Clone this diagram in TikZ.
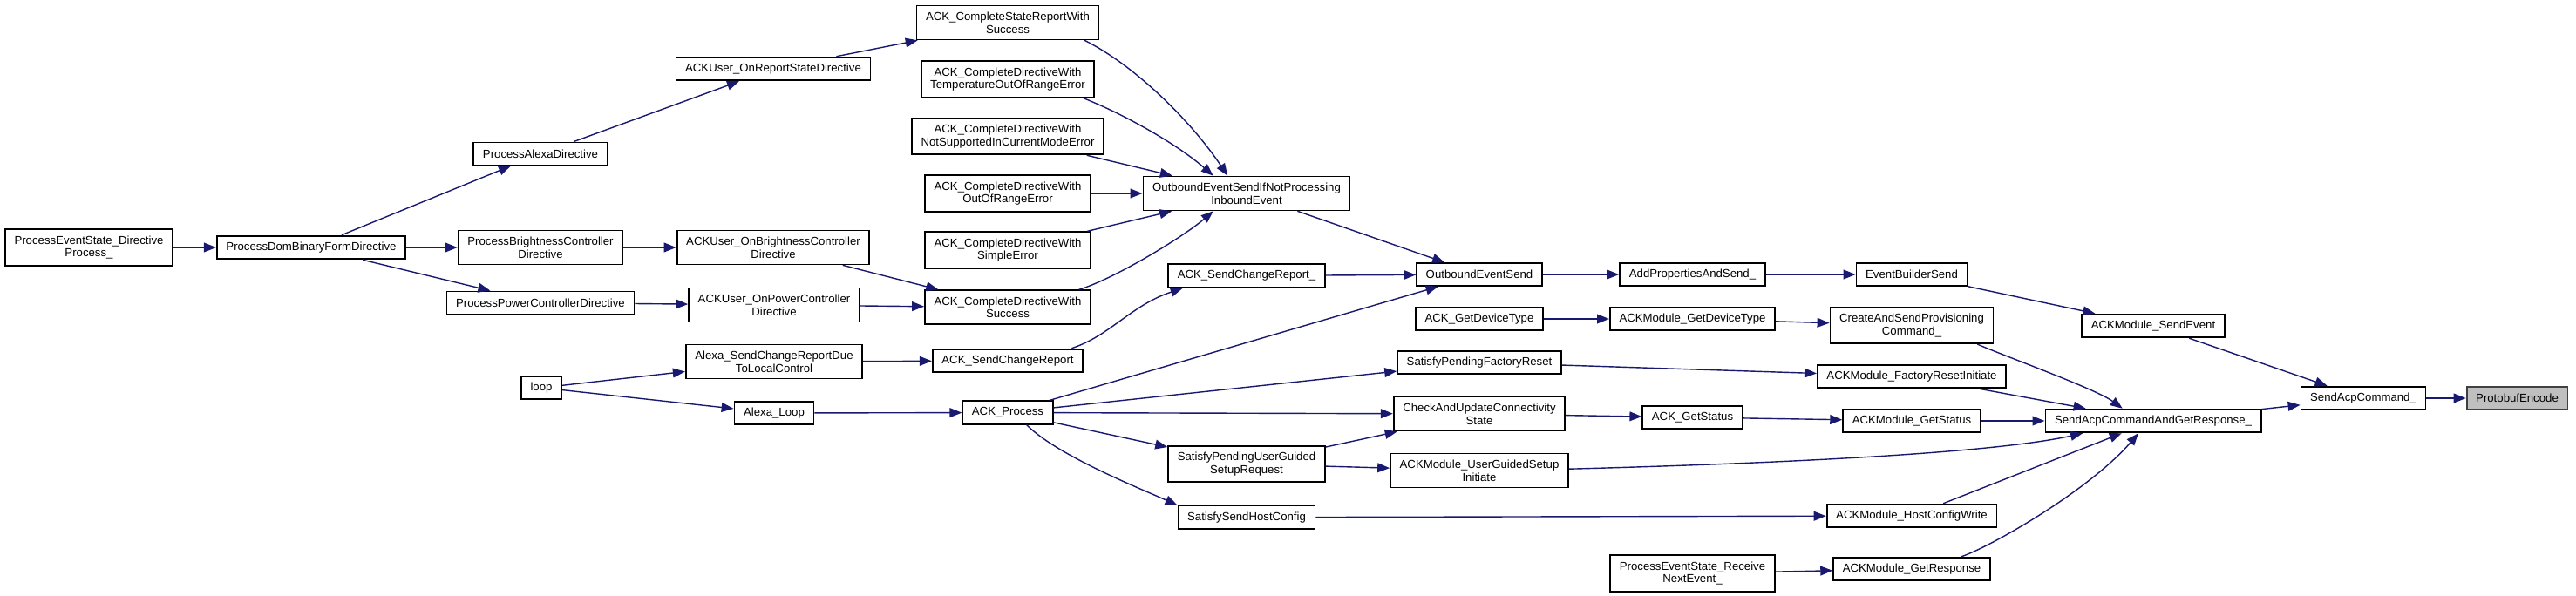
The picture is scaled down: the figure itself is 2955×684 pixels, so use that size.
\documentclass[tikz,border=0pt]{standalone}
\usepackage{fontspec}
\setmainfont{Liberation Sans}
\usetikzlibrary{arrows.meta}
\definecolor{edgeblue}{HTML}{191970}
\definecolor{boxgrey}{HTML}{404040}
\definecolor{focusgrey}{HTML}{BFBFBF}

\begin{document}
\begin{tikzpicture}[
    x=0.5pt, y=-0.5pt,
    >={Triangle[length=7pt, width=5.4pt]},
    func/.style={draw=black, line width=0.9pt, fill=white, align=center,
                 font=\fontsize{6.6}{7.4}\selectfont, inner xsep=5.3pt,
                 inner ysep=3.6pt, minimum height=13pt},
    focus/.style={func, draw=boxgrey, fill=focusgrey},
    callline/.style={->, color=edgeblue, line width=0.7pt}
  ]
  \useasboundingbox (0,0) rectangle (2955,684);

  \node[func] (pesdp) at (102,284) {ProcessEventState\_Directive\\Process\_};
  \node[func] (pdbf) at (357,284) {ProcessDomBinaryFormDirective};

  \node[func] (pad)  at (620,176.5) {ProcessAlexaDirective};
  \node[func] (pbcd) at (620,284) {ProcessBrightnessController\\Directive};
  \node[func] (ppcd) at (620,347.5) {ProcessPowerControllerDirective};
  \node[func] (loop) at (621,445) {loop};

  \node[func] (uorsd) at (887,79) {ACKUser\_OnReportStateDirective};
  \node[func] (uobcd) at (887,284) {ACKUser\_OnBrightnessController\\Directive};
  \node[func] (uopcd) at (888,350) {ACKUser\_OnPowerController\\Directive};
  \node[func] (ascrd) at (888,415) {Alexa\_SendChangeReportDue\\ToLocalControl};
  \node[func] (aloop) at (888,474) {Alexa\_Loop};

  \node[func] (cssr)  at (1156,26) {ACK\_CompleteStateReportWith\\Success};
  \node[func] (cdtor) at (1156,91) {ACK\_CompleteDirectiveWith\\TemperatureOutOfRangeError};
  \node[func] (cdns)  at (1156,156.6) {ACK\_CompleteDirectiveWith\\NotSupportedInCurrentModeError};
  \node[func] (cdor)  at (1156,222) {ACK\_CompleteDirectiveWith\\OutOfRangeError};
  \node[func] (cdse)  at (1156,287) {ACK\_CompleteDirectiveWith\\SimpleError};
  \node[func] (cds)   at (1156,352.7) {ACK\_CompleteDirectiveWith\\Success};
  \node[func] (scr)   at (1156,414) {ACK\_SendChangeReport};
  \node[func] (proc)  at (1156,473.5) {ACK\_Process};

  \node[func] (oesi)  at (1430,222) {OutboundEventSendIfNotProcessing\\InboundEvent};
  \node[func] (scru)  at (1430,316.5) {ACK\_SendChangeReport\_};
  \node[func] (spugs) at (1430,532.6) {SatisfyPendingUserGuided\\SetupRequest};
  \node[func] (sshc)  at (1430,593.7) {SatisfySendHostConfig};

  \node[func] (oes)   at (1697,315) {OutboundEventSend};
  \node[func] (gdt)   at (1697,366) {ACK\_GetDeviceType};
  \node[func] (spfr)  at (1697,416) {SatisfyPendingFactoryReset};
  \node[func] (cucs)  at (1697,475) {CheckAndUpdateConnectivity\\State};
  \node[func] (mugsi) at (1697,540) {ACKModule\_UserGuidedSetup\\Initiate};

  \node[func] (apas)   at (1941.5,315) {AddPropertiesAndSend\_};
  \node[func] (mgdt)   at (1941.5,366) {ACKModule\_GetDeviceType};
  \node[func] (gst)    at (1941.5,479) {ACK\_GetStatus};
  \node[func] (pesrne) at (1941.5,658) {ProcessEventState\_Receive\\NextEvent\_};

  \node[func] (ebs)  at (2193,315) {EventBuilderSend};
  \node[func] (casp) at (2193,373.5) {CreateAndSendProvisioning\\Command\_};
  \node[func] (mfri) at (2193,432) {ACKModule\_FactoryResetInitiate};
  \node[func] (mgst) at (2193,483) {ACKModule\_GetStatus};
  \node[func] (mhcw) at (2193,592) {ACKModule\_HostConfigWrite};
  \node[func] (mgr)  at (2193,653) {ACKModule\_GetResponse};

  \node[func] (mse)   at (2470,374) {ACKModule\_SendEvent};
  \node[func] (sacgr) at (2470,483) {SendAcpCommandAndGetResponse\_};
  \node[func] (sac)   at (2711,457) {SendAcpCommand\_};
  \node[focus] (pbe)  at (2887.5,457) {ProtobufEncode};

  % left part
  \draw[callline] (pesdp) -- (pdbf);
  \draw[callline] (pdbf) -- (pad);
  \draw[callline] (pdbf) -- (pbcd);
  \draw[callline] (pdbf) -- (ppcd);
  \draw[callline] (pad) -- (uorsd);
  \draw[callline] (pbcd) -- (uobcd);
  \draw[callline] (ppcd) -- (uopcd);
  \draw[callline] (loop) -- (ascrd);
  \draw[callline] (loop) -- (aloop);
  \draw[callline] (uorsd) -- (cssr);
  \draw[callline] (uobcd) -- (cds);
  \draw[callline] (uopcd) -- (cds);
  \draw[callline] (ascrd) -- (scr);
  \draw[callline] (aloop) -- (proc);

  % into OutboundEventSendIfNotProcessingInboundEvent
  \draw[callline] (cssr.-13) .. controls +(60,30) and +(-40,-60) .. (oesi.137);
  \draw[callline] (cdtor.-14.5) .. controls +(50,20) and +(-40,-35) .. (oesi.152);
  \draw[callline] (cdns) -- (oesi);
  \draw[callline] (cdor) -- (oesi);
  \draw[callline] (cdse) -- (oesi);
  \draw[callline] (cds.14) .. controls +(40,-12) and +(-35,30) .. (oesi.208);
  \draw[callline] (scr.11.5) .. controls +(45,-15) and +(-60,20) .. (scru.-169);

  % from ACK_Process
  \draw[callline] (proc) -- (oes);
  \draw[callline] (proc) -- (spfr);
  \draw[callline] (proc) -- (cucs);
  \draw[callline] (proc) -- (spugs);
  \draw[callline] (proc.-33) .. controls +(35,35) and +(-45,-20) .. (sshc.170);

  \draw[callline] (oesi) -- (oes);
  \draw[callline] (scru) -- (oes);
  \draw[callline] (spugs) -- (cucs);
  \draw[callline] (spugs) -- (mugsi);

  % middle part
  \draw[callline] (oes) -- (apas);
  \draw[callline] (gdt) -- (mgdt);
  \draw[callline] (cucs) -- (gst);
  \draw[callline] (spfr) -- (mfri);
  \draw[callline] (sshc) -- (mhcw);
  \draw[callline] (apas) -- (ebs);
  \draw[callline] (mgdt) -- (casp);
  \draw[callline] (gst) -- (mgst);
  \draw[callline] (pesrne) -- (mgr);

  % into SendAcpCommandAndGetResponse_
  \draw[callline] (mugsi.1) .. controls +(300,-8) and +(-90,20) .. (sacgr.-170.5);
  \draw[callline] (casp.-16.4) .. controls +(35,15) and +(-30,-22) .. (sacgr.158);
  \draw[callline] (mfri) -- (sacgr);
  \draw[callline] (mgst) -- (sacgr);
  \draw[callline] (mhcw) -- (sacgr);
  \draw[callline] (mgr.14.6) .. controls +(37,-13) and +(-55,64) .. (sacgr.-140);

  % right part
  \draw[callline] (ebs) -- (mse);
  \draw[callline] (mse) -- (sac);
  \draw[callline] (sacgr) -- (sac);
  \draw[callline] (sac) -- (pbe);
\end{tikzpicture}
\end{document}
